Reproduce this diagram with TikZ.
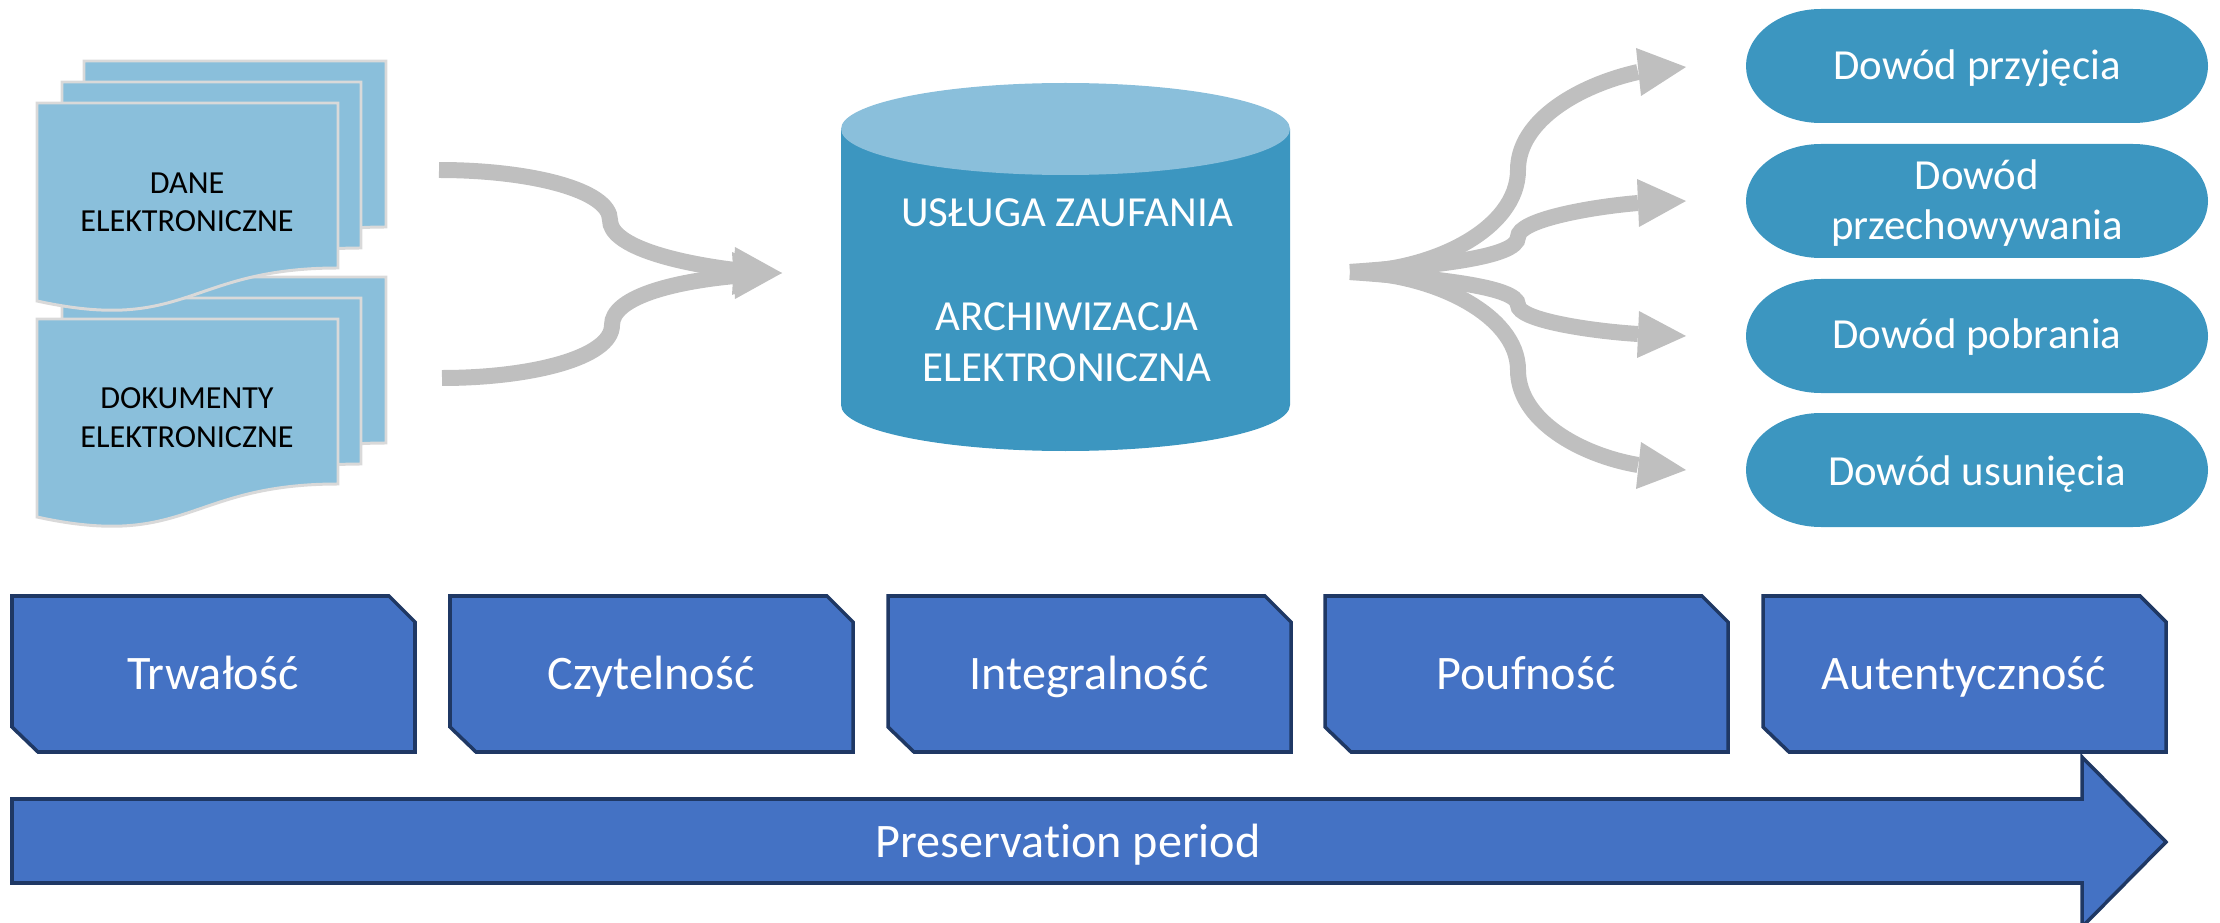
\documentclass[tikz,border=0pt]{standalone}
\usepackage{fontspec}
\setmainfont[Ligatures=NoCommon]{Carlito}
\definecolor{sheetfill}{HTML}{8ABFDB}
\definecolor{sheetedge}{HTML}{D9D9D9}
\definecolor{drumfill}{HTML}{3C96C0}
\definecolor{tagfill}{HTML}{4472C4}
\definecolor{tagedge}{HTML}{1F3864}
\definecolor{flowgray}{HTML}{BFBFBF}
\tikzset{
  sheet/.style={draw=sheetedge,fill=sheetfill,line width=0.85pt},
  sheetlabel/.style={inner sep=0pt,anchor=base,align=center,text=black,font=\fontsize{9.15}{10.9}\selectfont},
  drumlabel/.style={inner sep=0pt,anchor=base,align=center,text=white,font=\fontsize{12.2}{14.5}\selectfont},
  tagbox/.style={draw=tagedge,fill=tagfill,line width=1pt},
  taglabel/.style={inner sep=0pt,anchor=base,text=white,font=\fontsize{13.7}{16}\selectfont},
  flowline/.style={draw=flowgray,line width=4.55pt},
  flowhead/.style={fill=flowgray}
}
\begin{document}
\begin{tikzpicture}[x=0.1mm,y=0.1mm]
\useasboundingbox (0,0) rectangle (2220,-923);
\draw [sheet] (84,-277) -- (386,-277) -- (386,-443) .. controls (235,-443) and (235,-508) .. (84,-475) -- cycle;
\draw [sheet] (62,-298) -- (361,-298) -- (361,-464) .. controls (212,-464) and (212,-529) .. (62,-496) -- cycle;
\draw [sheet] (37,-319) -- (338,-319) -- (338,-484) .. controls (188,-484) and (188,-550) .. (37,-517) -- cycle;
\node [sheetlabel] (dokumenty) at (187,-447) {DOKUMENTY\\ELEKTRONICZNE};
\draw [sheet] (84,-61) -- (386,-61) -- (386,-227) .. controls (235,-227) and (235,-292) .. (84,-259) -- cycle;
\draw [sheet] (62,-82) -- (361,-82) -- (361,-248) .. controls (212,-248) and (212,-313) .. (62,-280) -- cycle;
\draw [sheet] (37,-103) -- (338,-103) -- (338,-268) .. controls (188,-268) and (188,-334) .. (37,-301) -- cycle;
\node [sheetlabel] (dane) at (187,-232) {DANE\\ELEKTRONICZNE};
\coordinate (danestart) at (439,-170);
\coordinate (dokumentystart) at (442,-378);
\coordinate (drumend1) at (735,-270);
\coordinate (drumend2) at (735,-276);
\draw [flowline] (danestart) .. controls (530,-170) and (610,-190) .. (610,-220) .. controls (610,-245) and (670,-262) .. (drumend1);
\fill [flowhead] (782,-273) -- (735,-247) -- (732,-295);
\draw [flowline] (dokumentystart) .. controls (530,-378) and (612,-358) .. (612,-325) .. controls (612,-298) and (670,-282) .. (drumend2);
\fill [flowhead] (782,-273) -- (732,-252) -- (735,-299);
\fill [drumfill] (841,-129) -- (841,-405) arc [start angle=180,end angle=360,x radius=224.5,y radius=46] -- (1290,-129) -- cycle;
\fill [sheetfill] (1065.5,-129) ellipse [x radius=224.5,y radius=46];
\node [drumlabel] (usluga) at (1067,-227) {USŁUGA ZAUFANIA};
\node [drumlabel] (archiwizacja) at (1067,-381) {ARCHIWIZACJA\\ELEKTRONICZNA};
\coordinate (fanroot) at (1350,-272);
\coordinate (fanend1) at (1638,-72);
\coordinate (fanend2) at (1638,-203);
\coordinate (fanend3) at (1638,-334);
\coordinate (fanend4) at (1638,-465);
\draw [flowline] (fanroot) .. controls (1430,-272) and (1518,-230) .. (1518,-170) .. controls (1518,-120) and (1580,-85) .. (fanend1);
\fill [flowhead] (1686,-67) -- (1636,-48) -- (1641,-96);
\draw [flowline] (fanroot) .. controls (1430,-266) and (1518,-258) .. (1518,-237) .. controls (1518,-220) and (1590,-207) .. (fanend2);
\fill [flowhead] (1686,-201) -- (1637,-179) -- (1639,-227);
\draw [flowline] (fanroot) .. controls (1430,-278) and (1518,-286) .. (1518,-305) .. controls (1518,-320) and (1590,-331) .. (fanend3);
\fill [flowhead] (1686,-336) -- (1639,-311) -- (1637,-358);
\draw [flowline] (fanroot) .. controls (1430,-272) and (1518,-314) .. (1518,-370) .. controls (1518,-420) and (1580,-455) .. (fanend4);
\fill [flowhead] (1686,-470) -- (1641,-442) -- (1636,-489);
\fill [drumfill] (1821,-9) -- (2133,-9) arc [start angle=90,end angle=-90,x radius=75,y radius=57] -- (1821,-123) arc [start angle=270,end angle=90,x radius=75,y radius=57] -- cycle;
\node [drumlabel] (proof1) at (1977,-80) {Dowód przyjęcia};
\fill [drumfill] (1821,-144) -- (2133,-144) arc [start angle=90,end angle=-90,x radius=75,y radius=57] -- (1821,-258) arc [start angle=270,end angle=90,x radius=75,y radius=57] -- cycle;
\node [drumlabel] (proof2) at (1977,-240) {Dowód\\przechowywania};
\fill [drumfill] (1821,-279) -- (2133,-279) arc [start angle=90,end angle=-90,x radius=75,y radius=57] -- (1821,-393) arc [start angle=270,end angle=90,x radius=75,y radius=57] -- cycle;
\node [drumlabel] (proof3) at (1977,-349) {Dowód pobrania};
\fill [drumfill] (1821,-413) -- (2133,-413) arc [start angle=90,end angle=-90,x radius=75,y radius=57] -- (1821,-527) arc [start angle=270,end angle=90,x radius=75,y radius=57] -- cycle;
\node [drumlabel] (proof4) at (1977,-485) {Dowód usunięcia};
\draw [tagbox] (12,-596) -- (389,-596) -- (415,-622) -- (415,-752) -- (38,-752) -- (12,-727) -- cycle;
\node [taglabel] (tag1) at (213,-689) {Trwałość};
\draw [tagbox] (450,-596) -- (827,-596) -- (853,-622) -- (853,-752) -- (476,-752) -- (450,-727) -- cycle;
\node [taglabel] (tag2) at (651,-689) {Czytelność};
\draw [tagbox] (888,-596) -- (1265,-596) -- (1291,-622) -- (1291,-752) -- (914,-752) -- (888,-727) -- cycle;
\node [taglabel] (tag3) at (1089,-689) {Integralność};
\draw [tagbox] (1325,-596) -- (1702,-596) -- (1728,-622) -- (1728,-752) -- (1351,-752) -- (1325,-727) -- cycle;
\node [taglabel] (tag4) at (1526,-689) {Poufność};
\draw [tagbox] (1763,-596) -- (2140,-596) -- (2166,-622) -- (2166,-752) -- (1789,-752) -- (1763,-727) -- cycle;
\node [taglabel] (tag5) at (1964,-689) {Autentyczność};
\draw [tagbox] (12,-799) -- (2082,-799) -- (2082,-757) -- (2166,-842) -- (2082,-927) -- (2082,-883) -- (12,-883) -- cycle;
\node [taglabel] (period) at (1068,-857) {Preservation period};
\end{tikzpicture}
\end{document}
